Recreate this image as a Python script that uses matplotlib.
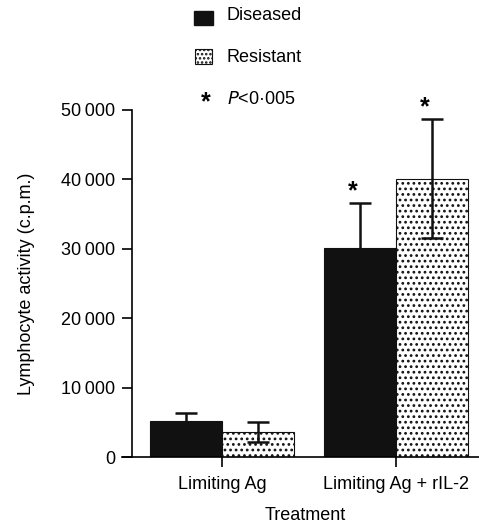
#Libraries
import numpy as np
import matplotlib
matplotlib.use('Agg')
import matplotlib.pyplot as plt
import matplotlib.ticker as ticker
from matplotlib.patches import Rectangle

#Fonts
plt.rcParams['font.family'] = ['Liberation Sans', 'DejaVu Sans']
plt.rcParams['hatch.linewidth'] = 1.2

#Data
groups = ['Limiting Ag', 'Limiting Ag + rIL-2']
diseased = [5200, 30100]
diseased_err = [1100, 6500]
resistant = [3600, 40100]
resistant_err = [1450, 8600]
significant = [False, True]
series_names = ['Diseased', 'Resistant']
yticks = [0, 10000, 20000, 30000, 40000, 50000]

FS = 13

#Number format with thin space
def format_count(v, pos=None):
    v = int(round(v))
    if v >= 10000:
        return '%d\u2009%03d' % (v // 1000, v % 1000)
    return str(v)

#Figure
fig = plt.figure(figsize=(4.79, 5.25), dpi=100)
ax = fig.add_axes([0.2756, 0.1295, 0.7244, 0.661])

x = np.arange(len(groups))
w = 0.414
cap = 0.065

ax.bar(x - w / 2, diseased, w, color='#111111', edgecolor='#111111', linewidth=0.8)
ax.bar(x + w / 2, resistant, w, color='white', edgecolor='#111111',
       linewidth=0.8, hatch='...')

#Error bars: upper only for diseased, both for resistant
top_d = np.array(diseased) + np.array(diseased_err)
ax.vlines(x - w / 2, diseased, top_d, color='#111111', linewidth=1.8)
ax.hlines(top_d, x - w / 2 - cap, x - w / 2 + cap, color='#111111', linewidth=1.8)
lo_r = np.array(resistant) - np.array(resistant_err)
hi_r = np.array(resistant) + np.array(resistant_err)
ax.vlines(x + w / 2, lo_r, hi_r, color='#111111', linewidth=1.8)
ax.hlines(hi_r, x + w / 2 - cap, x + w / 2 + cap, color='#111111', linewidth=1.8)
ax.hlines(lo_r, x + w / 2 - cap, x + w / 2 + cap, color='#111111', linewidth=1.8)

#Significance stars
for i, sig in enumerate(significant):
    if sig:
        ax.text(x[i] - w / 2 - 0.04, top_d[i] + 1700, '*',
                ha='center', va='center', fontsize=18, fontweight='bold')
        ax.text(x[i] + w / 2 - 0.04, hi_r[i] + 1700, '*',
                ha='center', va='center', fontsize=18, fontweight='bold')

#Axes
ax.set_xlim(-0.517, 1.477)
ax.set_ylim(0, 50000)
ax.set_yticks(yticks)
ax.yaxis.set_major_formatter(ticker.FuncFormatter(format_count))
ax.set_xticks(x)
ax.set_xticklabels(groups)
ax.spines['top'].set_visible(False)
ax.spines['right'].set_visible(False)
ax.spines['left'].set_linewidth(1.2)
ax.spines['bottom'].set_linewidth(1.2)
ax.spines['bottom'].set_bounds(-0.575, 1.477)
ax.tick_params(axis='both', direction='out', length=7, width=1.2, labelsize=FS, pad=5)
ax.tick_params(axis='x', pad=7)
ax.set_ylabel('Lymphocyte activity (c.p.m.)', fontsize=FS, labelpad=19)
ax.set_xlabel('Treatment', fontsize=FS, labelpad=10)

#Legend drawn in figure coordinates
fig.patches.append(Rectangle((194 / 479, 1 - 25 / 525), 19 / 479, 14 / 525,
                             transform=fig.transFigure, facecolor='#111111',
                             edgecolor='#111111', figure=fig))
fig.patches.append(Rectangle((195 / 479, 1 - 64 / 525), 17 / 479, 15 / 525,
                             transform=fig.transFigure, facecolor='white', hatch='....',
                             edgecolor='#111111', linewidth=0.8, figure=fig))
fig.text(227 / 479, 1 - 16 / 525, series_names[0], fontsize=FS, va='center')
fig.text(227 / 479, 1 - 57 / 525, series_names[1], fontsize=FS, va='center')
fig.text(206 / 479, 1 - 102 / 525, '*', fontsize=18, fontweight='bold',
         ha='center', va='center')
fig.text(227 / 479, 1 - 100 / 525, '$\\mathit{P}$<0·005', fontsize=FS, va='center')

fig.savefig('out.png', dpi=100)
